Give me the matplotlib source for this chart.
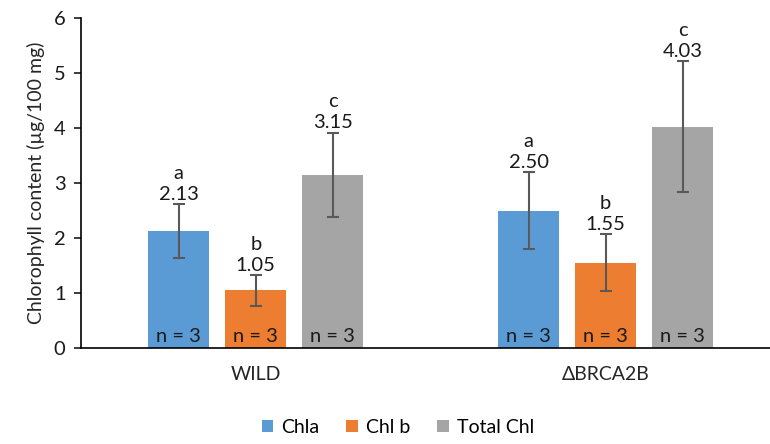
import numpy as np
import matplotlib.pyplot as plt

plt.rcParams['font.family'] = ['Lato', 'DejaVu Sans']

groups = ["WILD", "\u0394BRCA2B"]
series = ["Chla", "Chl b", "Total Chl"]
chla = [2.13, 2.50]
chlb = [1.05, 1.55]
total = [3.15, 4.03]
chla_err = [0.49, 0.70]
chlb_err = [0.28, 0.52]
total_err = [0.77, 1.19]
letters = ["a", "b", "c"]
n_text = "n = 3"

colors = ["#5B9BD5", "#ED7D31", "#A5A5A5"]

fig = plt.figure(figsize=(7.7, 4.44), dpi=100)
ax = fig.add_axes([0.105, 0.216, 0.895, 0.743])

x = np.arange(len(groups))
width = 0.174
pitch = 0.22
values = [chla, chlb, total]
errs = [chla_err, chlb_err, total_err]
fs = 14.5

for i, (vals, err) in enumerate(zip(values, errs)):
    pos = x + (i - 1) * pitch
    ax.bar(pos, vals, width, color=colors[i], label=series[i], zorder=2)
    ax.errorbar(pos, vals, yerr=err, fmt="none", ecolor="#595959",
                elinewidth=1.5, capsize=4, capthick=1.5, zorder=3)
    for p, v, e in zip(pos, vals, err):
        ax.annotate(f"{v:.2f}", (p, v + e), xytext=(0, 1), textcoords="offset points",
                    ha="center", va="bottom", fontsize=fs, color="#1a1a1a")
        ax.annotate(letters[i], (p, v + e), xytext=(0, 16), textcoords="offset points",
                    ha="center", va="bottom", fontsize=fs, color="#1a1a1a")
        ax.text(p, 0.05, n_text, ha="center", va="bottom", fontsize=fs, color="#1a1a1a")

ax.set_xlim(-0.5, 1.47)
ax.set_ylim(0, 6)
ax.set_xticks(x)
ax.set_xticklabels(groups, fontsize=14, color="#262626")
ax.tick_params(axis="x", length=0, pad=13)
ax.tick_params(axis="y", labelsize=fs, length=5, width=1.2, colors="#1a1a1a", pad=6)
ax.set_ylabel("Chlorophyll content (\u00b5g/100 mg)", fontsize=14, color="#262626", labelpad=6)

for s in ["top", "right"]:
    ax.spines[s].set_visible(False)
ax.spines["left"].set_linewidth(1.2)
ax.spines["bottom"].set_linewidth(1.2)

ax.legend(loc="center", bbox_to_anchor=(0.46, -0.24), ncol=3, frameon=False,
          fontsize=14, handlelength=0.6, handleheight=0.6, handletextpad=0.4, columnspacing=1.4)

fig.savefig("out.png", dpi=100)
